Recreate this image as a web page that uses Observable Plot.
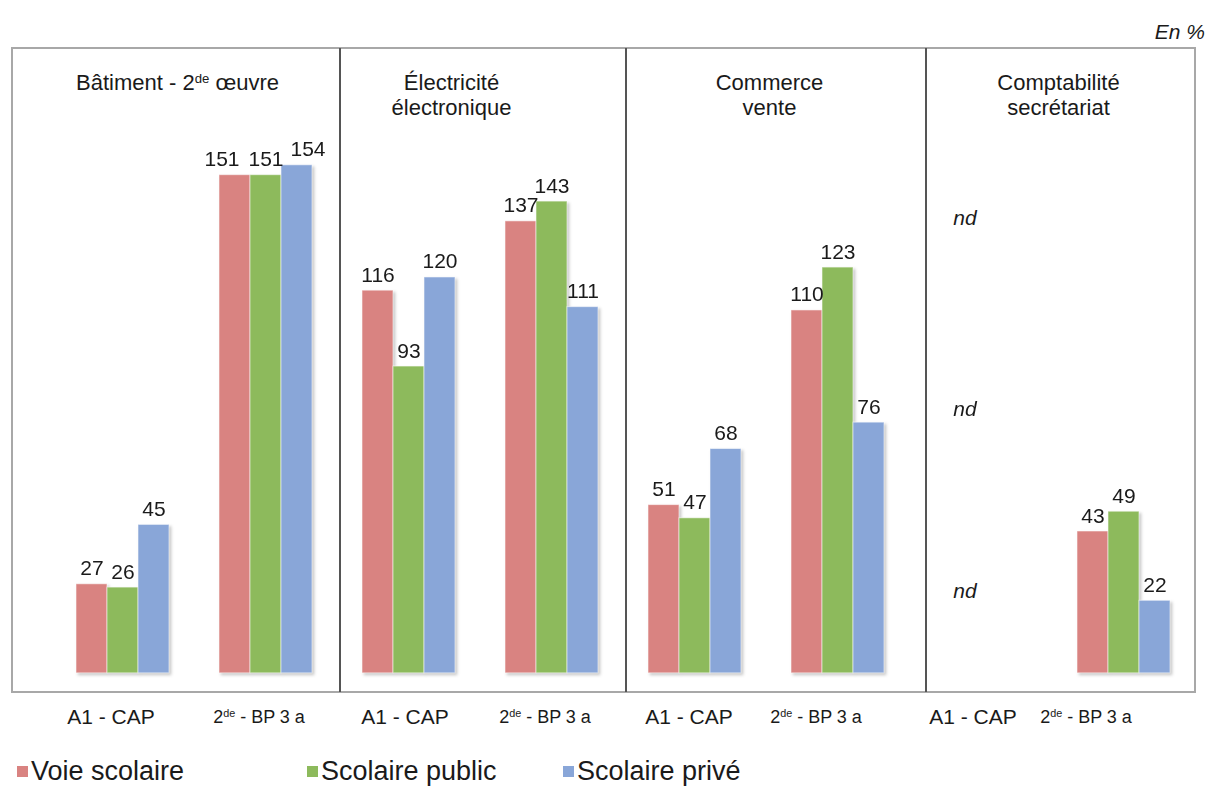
<!DOCTYPE html>
<html>
<head>
<meta charset="utf-8">
<script src="https://cdn.jsdelivr.net/npm/d3@7"></script>
<script src="https://cdn.jsdelivr.net/npm/@observablehq/plot@0.6"></script>
<style>
  html, body { margin: 0; padding: 0; background: #fff; }
  #chart { position: relative; width: 1209px; height: 788px; font-family: "Liberation Sans", Arial, sans-serif; color: #1a1a1a; }
  #unit { position: absolute; right: 4px; top: 20px; font-style: italic; font-size: 21px; }
  #legend { position: relative; height: 43px; font-size: 27px; }
  #legend .item { position: absolute; top: 11px; white-space: nowrap; line-height: 30px; }
  #legend .swatch { display: inline-block; width: 11px; height: 11px; margin-right: 3px; vertical-align: 3px; }
</style>
</head>
<body>
<div id="chart">
  <div id="unit">En %</div>
  <div id="plot"></div>
  <div id="legend"></div>
</div>
<script>
// Panels (job families) and the two training levels inside each panel
const panelTitles = ["Bâtiment - 2de œuvre", "Électricité\nélectronique", "Commerce\nvente", "Comptabilité\nsecrétariat"];
const levels = ["A1 - CAP", "2de - BP 3 a"];
const series = ["Voie scolaire", "Scolaire public", "Scolaire privé"];
const seriesColors = ["#D98381", "#8DBA5C", "#89A6D8"];

// One value per panel × level, in panel order (null = not available)
const voieScolaire   = [27, 151, 116, 137, 51, 110, null, 43];
const scolairePublic = [26, 151,  93, 143, 47, 123, null, 49];
const scolairePrive  = [45, 154, 120, 111, 68,  76, null, 22];

// Heights (in %) of the "nd" notes written in the unavailable group
const ndLevels = [138, 80, 25];

// ---- layout ----
const W = 1209, H = 745;
const margin = {top: 48, right: 14, bottom: 53, left: 12};
const titleDx = [-17, -29, 3, 6];
const labelDx = [-12, -7, -4, -7, -6, -22, -8, -38];
const levelFontSize = [21, 18];
const dividerDx = [3, 3, 17];
const legendLeft = [17, 307, 563];
const spreadGroup = 1;              // group whose value labels are pulled apart
const spreadDx = [-13, 0, 11];

const groups = panelTitles.flatMap((p, i) => levels.map(l => `${i}|${l}`));
const columns = [voieScolaire, scolairePublic, scolairePrive];
const rows = groups.flatMap((g, k) =>
  columns.map((vals, s) => ({group: g, series: series[s], value: vals[k]}))
).filter(d => d.value != null);
const missingGroup = groups[groups.findIndex((g, k) => columns.every(c => c[k] == null))];

const textColor = "#1a1a1a";
const valueLabel = (data, dx) => Plot.text(data, {fx: "group", x: "series", y: "value",
  text: d => String(d.value), lineAnchor: "bottom", dy: -9, dx, fontSize: 21, fill: textColor});

const marks = [
  Plot.barY(rows, {fx: "group", x: "series", y1: 0, y2: "value", fill: "series",
    stroke: "#ffffff", strokeOpacity: 0.55, strokeWidth: 1}),
  valueLabel(rows.filter(d => d.group !== groups[spreadGroup]), 0),
  ...series.map((s, i) => valueLabel(rows.filter(d => d.group === groups[spreadGroup] && d.series === s), spreadDx[i])),
  Plot.text(ndLevels, {fx: () => missingGroup, x: () => series[0], y: d => d, text: () => "nd",
    dx: 15, fontSize: 21, fontStyle: "italic", fill: textColor})
];

// panel titles, centred over each panel
panelTitles.forEach((t, i) => {
  marks.push(Plot.text([t], {fx: () => groups[2 * i], text: d => d, frameAnchor: "top-right",
    textAnchor: "middle", lineAnchor: "top", dy: 24, dx: titleDx[i], fontSize: 22,
    lineHeight: 1.14, fill: textColor}));
});

// level labels under each group
groups.forEach((g, k) => {
  marks.push(Plot.text([g], {fx: d => d, text: d => d.split("|")[1], frameAnchor: "bottom",
    lineAnchor: "middle", dy: 25, dx: labelDx[k], fontSize: levelFontSize[k % 2], fill: textColor}));
});

const plot = Plot.plot({
  width: W, height: H,
  marginTop: margin.top, marginRight: margin.right, marginBottom: margin.bottom, marginLeft: margin.left,
  fx: {domain: groups, paddingInner: 0, paddingOuter: 0.1255, align: 1, axis: null},
  x: {domain: series, paddingInner: 0, paddingOuter: 0.76, axis: null},
  y: {domain: [-5.8, 189.4], axis: null},
  color: {domain: series, range: seriesColors},
  style: {fontFamily: "'Liberation Sans', Arial, sans-serif", background: "transparent", overflow: "visible"},
  marks
});

document.getElementById("plot").appendChild(plot);

const svg = d3.select(plot.tagName.toLowerCase() === "svg" ? plot : plot.querySelector("svg"));

// soft shadow under the bars
svg.selectAll('g[aria-label="bar"]').style("filter", "drop-shadow(2px 2px 1.5px rgba(0,0,0,0.22))");

// superscript for "2de"
svg.selectAll("text, tspan").each(function () {
  if (this.childElementCount) return;
  const t = this.textContent;
  const i = t.indexOf("2de");
  if (i < 0) return;
  const el = d3.select(this);
  el.text(null);
  el.append("tspan").text(t.slice(0, i + 1));
  el.append("tspan").attr("font-size", "60%").attr("baseline-shift", "super").text("de");
  el.append("tspan").text(t.slice(i + 3));
});

// outer frame and panel dividers
const fxScale = plot.scale("fx");
const frameTop = margin.top, frameBottom = H - margin.bottom;
svg.append("rect")
  .attr("x", margin.left).attr("y", frameTop)
  .attr("width", W - margin.left - margin.right).attr("height", frameBottom - frameTop)
  .attr("fill", "none").attr("stroke", "#a8a8a8").attr("stroke-width", 2);
[2, 4, 6].forEach((k, j) => {
  const x = fxScale.apply(groups[k]) + dividerDx[j];
  svg.append("line").attr("x1", x).attr("x2", x).attr("y1", frameTop).attr("y2", frameBottom)
    .attr("stroke", "#555").attr("stroke-width", 2);
});

// legend
const legend = d3.select("#legend");
series.forEach((s, i) => {
  const item = legend.append("div").attr("class", "item").style("left", legendLeft[i] + "px");
  item.append("span").attr("class", "swatch").style("background", seriesColors[i]);
  item.append("span").text(s);
});
</script>
</body>
</html>
